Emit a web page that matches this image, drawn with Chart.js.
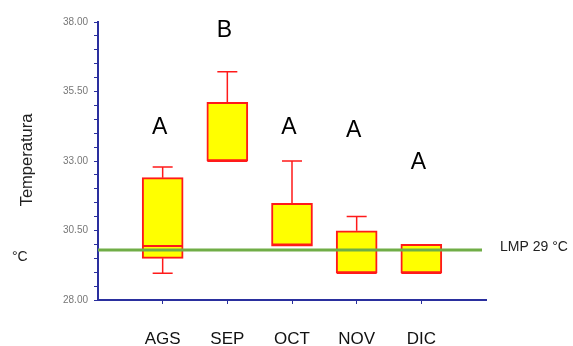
<!DOCTYPE html>
<html>
<head>
<meta charset="utf-8">
<script src="https://cdn.jsdelivr.net/npm/chart.js@4.4.1/dist/chart.umd.min.js"></script>
<style>
  body { margin: 0; background: #fff; }
  canvas { display: block; }
</style>
</head>
<body>
<canvas id="chart" width="573" height="346"></canvas>
<script>
// data
const months = ['AGS', 'SEP', 'OCT', 'NOV', 'DIC'];
const whiskerLow = [28.96, 33.0, 29.94, 28.97, 28.97];
const q1 = [29.5, 33.0, 29.94, 28.97, 28.97];
const median = [29.94, 33.0, 30.0, 28.97, 28.97];
const q3 = [32.4, 35.11, 31.48, 30.49, 30.0];
const whiskerHigh = [32.78, 36.21, 33.0, 31.0, 30.0];
const groupLetters = ['A', 'B', 'A', 'A', 'A'];
const letterY = [34.2, 37.7, 34.2, 34.1, 32.95];
const yTicks = [28, 30.5, 33, 35.5, 38];
const lmp = 29.8;

const labels = [''].concat(months, ['']);
const boxes = [null].concat(months.map((m, i) => [q1[i], q3[i]]), [null]);

const axisBlue = '#2a2f9e';
const font = '"Liberation Sans", Arial, sans-serif';

// whiskers, medians, LMP line and the loose texts
const extras = {
    id: 'extras',
    beforeDatasetsDraw(chart) {
        const ctx = chart.ctx;
        const x = chart.scales.x, y = chart.scales.y;
        ctx.save();
        ctx.strokeStyle = '#ff1a1a';
        ctx.lineWidth = 1.5;
        months.forEach((m, i) => {
            const cx = x.getPixelForValue(i + 1);
            ctx.beginPath();
            if (whiskerHigh[i] > q3[i]) {
                ctx.moveTo(cx, y.getPixelForValue(q3[i]));
                ctx.lineTo(cx, y.getPixelForValue(whiskerHigh[i]));
                ctx.moveTo(cx - 10, y.getPixelForValue(whiskerHigh[i]));
                ctx.lineTo(cx + 10, y.getPixelForValue(whiskerHigh[i]));
            }
            if (whiskerLow[i] < q1[i]) {
                ctx.moveTo(cx, y.getPixelForValue(q1[i]));
                ctx.lineTo(cx, y.getPixelForValue(whiskerLow[i]));
                ctx.moveTo(cx - 10, y.getPixelForValue(whiskerLow[i]));
                ctx.lineTo(cx + 10, y.getPixelForValue(whiskerLow[i]));
            }
            ctx.stroke();
        });
        ctx.restore();
    },
    afterDatasetsDraw(chart) {
        const ctx = chart.ctx;
        const x = chart.scales.x, y = chart.scales.y;
        const area = chart.chartArea;
        ctx.save();
        // medians
        ctx.strokeStyle = '#ff1a1a';
        ctx.lineWidth = 2;
        months.forEach((m, i) => {
            const cx = x.getPixelForValue(i + 1);
            const py = y.getPixelForValue(median[i]);
            ctx.beginPath();
            ctx.moveTo(cx - 20, py);
            ctx.lineTo(cx + 20, py);
            ctx.stroke();
        });
        // LMP line
        ctx.strokeStyle = '#70ad47';
        ctx.lineWidth = 3;
        const ly = y.getPixelForValue(lmp);
        ctx.beginPath();
        ctx.moveTo(area.left, ly);
        ctx.lineTo(area.right - 4, ly);
        ctx.stroke();

        ctx.fillStyle = '#222';
        ctx.font = '14px ' + font;
        ctx.textAlign = 'left';
        ctx.textBaseline = 'middle';
        ctx.fillText('LMP 29 °C', 500, ly - 3);
        ctx.fillText('°C', 12, 257);

        // group letters
        ctx.fillStyle = '#000';
        ctx.font = '23px ' + font;
        ctx.textAlign = 'center';
        months.forEach((m, i) => {
            ctx.fillText(groupLetters[i], x.getPixelForValue(i + 1) - 3, y.getPixelForValue(letterY[i]));
        });

        // y title
        ctx.translate(27, 160);
        ctx.rotate(-Math.PI / 2);
        ctx.font = '16.5px ' + font;
        ctx.fillStyle = '#222';
        ctx.fillText('Temperatura', 0, 0);
        ctx.restore();
    }
};

new Chart(document.getElementById('chart').getContext('2d'), {
    type: 'bar',
    data: {
        labels: labels,
        datasets: [{
            data: boxes,
            backgroundColor: '#ffff00',
            borderColor: '#ff1a1a',
            borderWidth: 2,
            borderSkipped: false,
            barThickness: 41
        }]
    },
    options: {
        responsive: false,
        animation: false,
        layout: { padding: { top: 22, right: 87, left: 0, bottom: 0 } },
        plugins: {
            legend: { display: false },
            tooltip: { enabled: false }
        },
        scales: {
            x: {
                offset: false,
                afterFit: s => { s.height = 46; },
                afterBuildTicks: s => { s.ticks = s.ticks.filter(t => t.value >= 1 && t.value <= months.length); },
                border: { color: axisBlue, width: 2 },
                grid: { offset: false, drawOnChartArea: false, drawTicks: true, tickLength: 4, color: axisBlue },
                ticks: {
                    autoSkip: false,
                    maxRotation: 0,
                    padding: 25,
                    color: '#111',
                    font: { size: 17, family: font }
                }
            },
            y: {
                min: 28,
                max: 38,
                afterFit: s => { s.width = 98; },
                border: { color: axisBlue, width: 2 },
                grid: { drawOnChartArea: false, drawTicks: true, tickLength: 4, color: axisBlue },
                ticks: {
                    stepSize: 0.5,
                    autoSkip: false,
                    padding: 6,
                    color: '#777',
                    font: { size: 10, family: font },
                    callback: v => yTicks.includes(v) ? v.toFixed(2) : ''
                }
            }
        }
    },
    plugins: [extras]
});
</script>
</body>
</html>
